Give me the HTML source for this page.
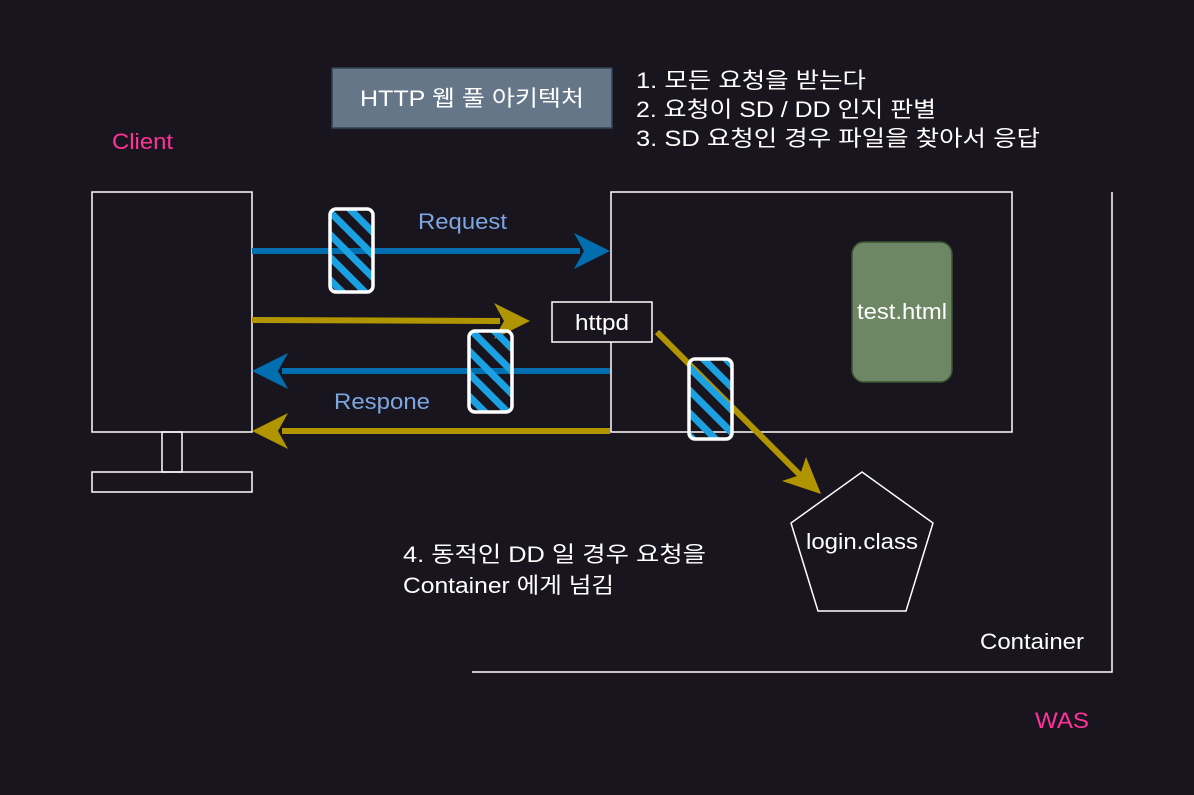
<!DOCTYPE html>
<html><head><meta charset="utf-8"><style>
html,body{margin:0;padding:0;background:#18151e;}
svg{display:block}
text{font-family:"Liberation Sans","Noto Sans CJK KR",sans-serif;}
</style></head><body>
<svg width="1194" height="795" viewBox="0 0 1194 795" xmlns="http://www.w3.org/2000/svg">
<defs>
<pattern id="h" patternUnits="userSpaceOnUse" width="16" height="16" patternTransform="rotate(-45)">
<rect x="0" y="0" width="7" height="16" fill="#1ba1e2"/>
</pattern>
</defs>
<rect width="1194" height="795" fill="#18151e"/>
<rect x="332" y="68" width="280" height="60" fill="#647687" stroke="#314354" stroke-width="1.5"/>
<text x="360" y="106" fill="#fff" font-size="22" textLength="224" lengthAdjust="spacingAndGlyphs">HTTP 웹 풀 아키텍처</text>
<text x="636" y="88" fill="#fff" font-size="22" textLength="230" lengthAdjust="spacingAndGlyphs">1. 모든 요청을 받는다</text>
<text x="636" y="117" fill="#fff" font-size="22" textLength="300" lengthAdjust="spacingAndGlyphs">2. 요청이 SD / DD 인지 판별</text>
<text x="636" y="146" fill="#fff" font-size="22" textLength="404" lengthAdjust="spacingAndGlyphs">3. SD 요청인 경우 파일을 찾아서 응답</text>
<text x="112" y="149" fill="#ff3399" font-size="22" textLength="61" lengthAdjust="spacingAndGlyphs">Client</text>
<text x="1035" y="728" fill="#ff3399" font-size="22" textLength="54" lengthAdjust="spacingAndGlyphs">WAS</text>
<rect x="92" y="192" width="160" height="240" fill="none" stroke="#fff" stroke-width="1.5"/>
<rect x="162" y="432" width="20" height="40" fill="none" stroke="#fff" stroke-width="1.5"/>
<rect x="92" y="472" width="160" height="20" fill="none" stroke="#fff" stroke-width="1.5"/>
<polyline points="472,672 1112,672 1112,192" fill="none" stroke="#fff" stroke-width="1.5"/>
<text x="980" y="649" fill="#fff" font-size="22" textLength="104" lengthAdjust="spacingAndGlyphs">Container</text>
<rect x="611" y="192" width="401" height="240" fill="none" stroke="#fff" stroke-width="1.5"/>
<rect x="852" y="242" width="100" height="140" rx="12" fill="#6d8764" stroke="#3a5431" stroke-width="1.5"/>
<text x="857" y="319" fill="#fff" font-size="22" textLength="90" lengthAdjust="spacingAndGlyphs">test.html</text>
<line x1="252" y1="251" x2="580" y2="251" stroke="#006eaf" stroke-width="6"/>
<polygon points="610,251 574,233 584,251 574,269" fill="#006eaf"/>
<line x1="252" y1="320" x2="500" y2="321" stroke="#b09500" stroke-width="6"/>
<polygon points="530,321 494,303 504,321 494,339" fill="#b09500"/>
<line x1="610" y1="371" x2="282" y2="371" stroke="#006eaf" stroke-width="6"/>
<polygon points="252,371 288,353 278,371 288,389" fill="#006eaf"/>
<line x1="610" y1="431" x2="282" y2="431" stroke="#b09500" stroke-width="6"/>
<polygon points="252,431 288,413 278,431 288,449" fill="#b09500"/>
<line x1="657" y1="332" x2="800" y2="475" stroke="#b09500" stroke-width="6"/>
<polygon points="821,494 782,481 800,475 806,457" fill="#b09500"/>
<rect x="552" y="302" width="100" height="40" fill="#18151e" stroke="#fff" stroke-width="1.5"/>
<text x="575" y="330" fill="#fff" font-size="22" textLength="54" lengthAdjust="spacingAndGlyphs">httpd</text>
<rect x="330" y="209" width="43" height="83" rx="6" fill="url(#h)" stroke="#fff" stroke-width="3.5"/>
<rect x="469" y="331" width="43" height="81" rx="6" fill="url(#h)" stroke="#fff" stroke-width="3.5"/>
<rect x="689" y="359" width="43" height="80" rx="6" fill="url(#h)" stroke="#fff" stroke-width="3.5"/>
<text x="418" y="229" fill="#7ea6e0" font-size="22" textLength="89" lengthAdjust="spacingAndGlyphs">Request</text>
<text x="334" y="409" fill="#7ea6e0" font-size="22" textLength="96" lengthAdjust="spacingAndGlyphs">Respone</text>
<polygon points="862,472 933,523 906,611 818,611 791,523" fill="none" stroke="#fff" stroke-width="1.5"/>
<text x="806" y="549" fill="#fff" font-size="22" textLength="112" lengthAdjust="spacingAndGlyphs">login.class</text>
<text x="403" y="562" fill="#fff" font-size="22" textLength="303" lengthAdjust="spacingAndGlyphs">4. 동적인 DD 일 경우 요청을</text>
<text x="403" y="593" fill="#fff" font-size="22" textLength="211" lengthAdjust="spacingAndGlyphs">Container 에게 넘김</text>
</svg>
</body></html>
